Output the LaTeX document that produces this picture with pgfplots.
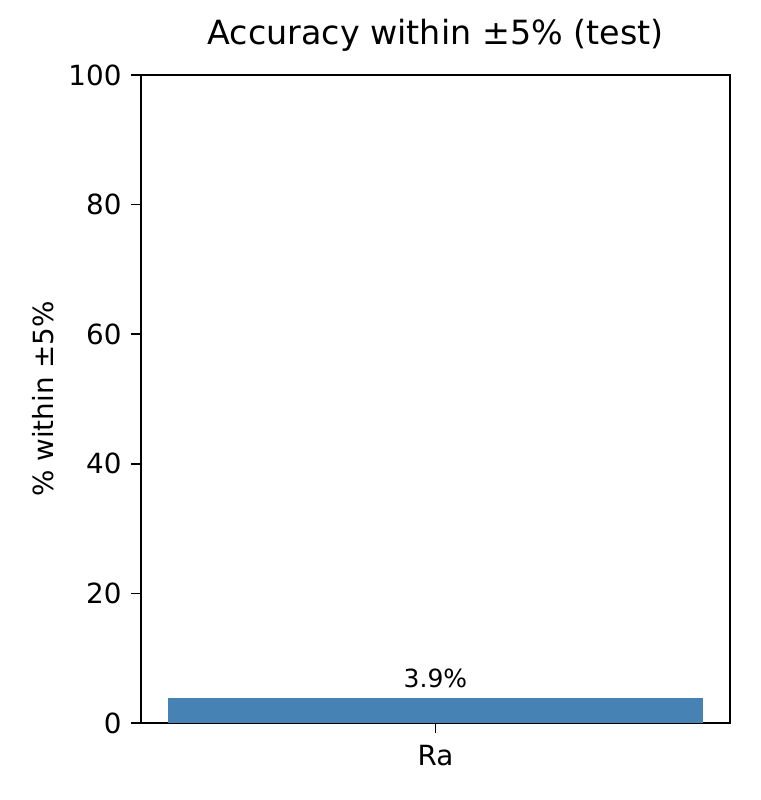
\documentclass[border=0pt]{standalone}
\usepackage{pgfplots}
\pgfplotsset{compat=1.18}
\usepackage{fontspec}
\setmainfont{DejaVu Sans}
\definecolor{barblue}{HTML}{4682B4}

\begin{document}
\begin{tikzpicture}
% full figure: 760x800 px at 200 dpi -> 273.6pt x 288pt
\useasboundingbox (0,0) rectangle (273.6pt,288pt);
\begin{axis}[
    at={(50.76pt,27.72pt)}, anchor=south west,
    scale only axis,
    width=212.04pt, height=233.28pt,
    xmin=-0.44, xmax=0.44,
    ymin=0, ymax=100,
    xtick={0}, xticklabels={Ra},
    ytick={0,20,40,60,80,100},
    xtick pos=bottom, ytick pos=left,
    tick align=outside,
    major tick length=3.5pt,
    tick style={black, semithick},
    axis line style={black, semithick},
    /pgf/number format/assume math mode=true,
    tick label style={font=\fontsize{10}{12}\selectfont},
    xticklabel style={yshift=-1pt},
    ylabel={\% within ±5\%},
    ylabel style={font=\fontsize{10}{12}\selectfont, yshift=-1.5pt},
    title={Accuracy within ±5\% (test)},
    title style={font=\fontsize{12}{14}\selectfont, yshift=-1pt},
    ybar, bar width=0.8,
    nodes near coords={\pgfmathprintnumber[fixed,precision=1,zerofill]{\pgfplotspointmeta}\%},
    nodes near coords style={font=\fontsize{9}{11}\selectfont, black},
]
\addplot[fill=barblue, draw=none] coordinates {(0,3.9)};
\end{axis}
\end{tikzpicture}
\end{document}
